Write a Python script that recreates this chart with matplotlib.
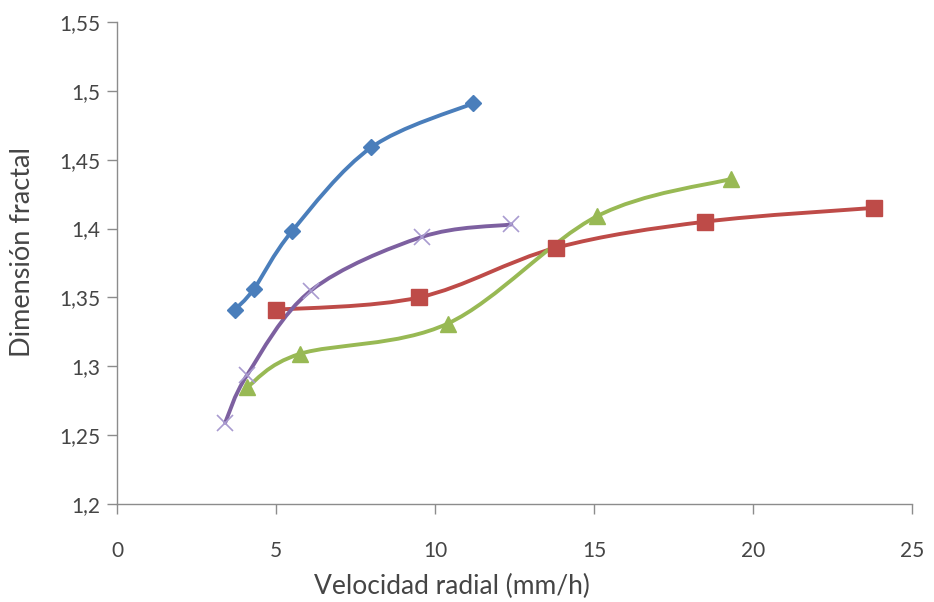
import matplotlib.pyplot as plt
import numpy as np
from matplotlib.path import Path
from matplotlib.patches import PathPatch

plt.rcParams['font.family'] = ['Lato', 'DejaVu Sans']

# Series read as (velocidad radial, dimension fractal)
blue_x = [3.7, 4.3, 5.5, 8.0, 11.2]
blue_y = [1.341, 1.356, 1.398, 1.459, 1.491]

red_x = [5.0, 9.5, 13.8, 18.5, 23.8]
red_y = [1.341, 1.350, 1.386, 1.405, 1.415]

green_x = [4.1, 5.75, 10.4, 15.1, 19.3]
green_y = [1.285, 1.309, 1.331, 1.409, 1.436]

purple_x = [3.4, 4.1, 6.1, 9.6, 12.4]
purple_y = [1.259, 1.294, 1.355, 1.394, 1.403]

x_ticks = [0, 5, 10, 15, 20, 25]
y_ticks = [1.2, 1.25, 1.3, 1.35, 1.4, 1.45, 1.5, 1.55]
y_tick_labels = ['1,2', '1,25', '1,3', '1,35', '1,4', '1,45', '1,5', '1,55']


def smooth_path(xs, ys):
    # Catmull-Rom style bezier through the points (like spreadsheet smoothed lines)
    pts = np.column_stack([xs, ys])
    n = len(pts)
    verts = [pts[0]]
    codes = [Path.MOVETO]
    for i in range(n - 1):
        p0 = pts[i - 1] if i > 0 else pts[i]
        p1 = pts[i]
        p2 = pts[i + 1]
        p3 = pts[i + 2] if i + 2 < n else pts[i + 1]
        c1 = p1 + (p2 - p0) / 6
        c2 = p2 - (p3 - p1) / 6
        verts += [c1, c2, p2]
        codes += [Path.CURVE4] * 3
    return Path(verts, codes)


fig = plt.figure(figsize=(9.34, 6.02), dpi=100)
ax = fig.add_axes([0.1253, 0.1628, 0.8511, 0.8007])

series = [
    (blue_x, blue_y, '#4A7EBB', 'D', 8, '#4A7EBB'),
    (red_x, red_y, '#BE4B48', 's', 12, '#BE4B48'),
    (green_x, green_y, '#98B954', '^', 11, '#98B954'),
    (purple_x, purple_y, '#7D60A0', 'x', 11, '#A99BD0'),
]

for xs, ys, color, marker, size, mcolor in series:
    ax.add_patch(PathPatch(smooth_path(xs, ys), facecolor='none',
                           edgecolor=color, lw=2.8, capstyle='round', zorder=2))
    if marker == 'x':
        ax.plot(xs, ys, ls='none', marker=marker, ms=size, mew=1.2,
                color=mcolor, zorder=3)
    else:
        ax.plot(xs, ys, ls='none', marker=marker, ms=size, color=mcolor,
                mec=mcolor, zorder=3)

ax.set_xlim(0, 25)
ax.set_ylim(1.2, 1.55)
ax.set_xticks(x_ticks)
ax.set_xticklabels([str(t) for t in x_ticks])
ax.set_yticks(y_ticks)
ax.set_yticklabels(y_tick_labels)

for side in ['top', 'right']:
    ax.spines[side].set_visible(False)
for side in ['left', 'bottom']:
    ax.spines[side].set_color('#8C8C8C')
    ax.spines[side].set_linewidth(1.0)

ax.tick_params(axis='both', colors='#8C8C8C', length=7, width=1.0,
               labelcolor='#454545', labelsize=15)
ax.tick_params(axis='x', pad=20)
ax.tick_params(axis='y', pad=5)

ax.set_xlabel('Velocidad radial (mm/h)', fontsize=19, color='#454545')
ax.set_ylabel('Dimensión fractal', fontsize=19.5, color='#454545')
ax.xaxis.set_label_coords(0.421, -0.172)
ax.yaxis.set_label_coords(-0.1195, 0.523)
ax.xaxis.label.set_verticalalignment('center')
ax.yaxis.label.set_verticalalignment('center')

fig.savefig('out.png', dpi=100, facecolor='white')
